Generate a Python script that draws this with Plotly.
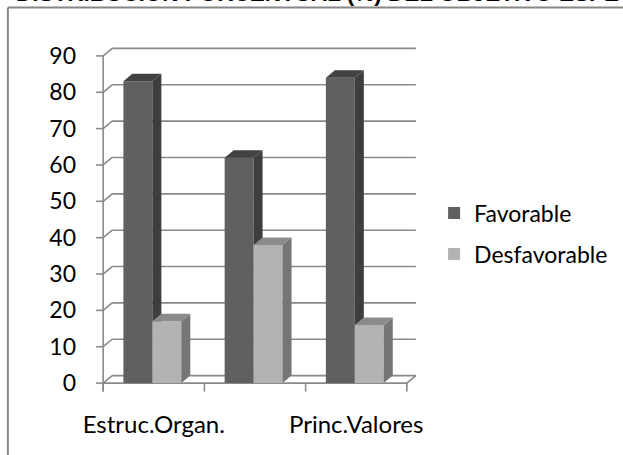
import plotly.graph_objects as go

# ---- data ----
categories = ["Estruc.Organ.", "", "Princ.Valores"]   # middle label not shown in the reference
favorable = [83, 62, 84]
desfavorable = [17, 38, 16]
y_ticks = [0, 10, 20, 30, 40, 50, 60, 70, 80, 90]
title_text = "DISTRIBUCIÓN PORCENTUAL (%) DEL OBJETIVO ESPECÍFICO 1"

# ---- style ----
FONT = "Lato"
C_FAV = dict(front="#606060", side="#3e3e3e", top="#424242")
C_DES = dict(front="#b3b3b3", side="#767676", top="#8b8b8b")
GRID = "#8a8a8a"
DX, DY = 0.089, 2.06          # 3-D depth offset in data units
BAR_W = 0.286
OFF_FAV, OFF_DES = -0.300, -0.014

xs = list(range(len(categories)))
x0, x1 = -0.5, len(categories) - 0.5


def faces(values, offset):
    side_x, side_y, top_x, top_y = [], [], [], []
    for i, v in zip(xs, values):
        xl = i + offset
        xr = xl + BAR_W
        side_x += [xr, xr, xr + DX, xr + DX, xr, None]
        side_y += [0, v, v + DY, DY, 0, None]
        top_x += [xl, xr, xr + DX, xl + DX, xl, None]
        top_y += [v, v, v + DY, v + DY, v, None]
    return side_x, side_y, top_x, top_y


fig = go.Figure()

# Favorable on main subplot
fig.add_trace(go.Bar(x=xs, y=favorable, width=BAR_W, offset=OFF_FAV,
                     marker=dict(color=C_FAV["front"], line=dict(width=0)),
                     name="Favorable", legendgroup="f", yaxis="y"))
sx, sy, tx, ty = faces(favorable, OFF_FAV)
fig.add_trace(go.Scatter(x=sx, y=sy, fill="toself", fillcolor=C_FAV["side"], mode="lines",
                         line=dict(width=0), showlegend=False, hoverinfo="skip", yaxis="y"))
fig.add_trace(go.Scatter(x=tx, y=ty, fill="toself", fillcolor=C_FAV["top"], mode="lines",
                         line=dict(width=0), showlegend=False, hoverinfo="skip", yaxis="y"))

# Desfavorable on overlaid subplot (drawn above Favorable side faces)
fig.add_trace(go.Bar(x=xs, y=desfavorable, width=BAR_W, offset=OFF_DES,
                     marker=dict(color=C_DES["front"], line=dict(width=0)),
                     name="Desfavorable", legendgroup="d", yaxis="y2"))
sx, sy, tx, ty = faces(desfavorable, OFF_DES)
fig.add_trace(go.Scatter(x=sx, y=sy, fill="toself", fillcolor=C_DES["side"], mode="lines",
                         line=dict(width=0), showlegend=False, hoverinfo="skip", yaxis="y2"))
fig.add_trace(go.Scatter(x=tx, y=ty, fill="toself", fillcolor=C_DES["top"], mode="lines",
                         line=dict(width=0), showlegend=False, hoverinfo="skip", yaxis="y2"))

# ---- frame: walls, floor, axis, ticks ----
shapes = []


def seg(xa, ya, xb, yb, layer="below"):
    shapes.append(dict(type="line", xref="x", yref="y", x0=xa, y0=ya, x1=xb, y1=yb,
                       line=dict(color=GRID, width=1.6), layer=layer))


for v in y_ticks:
    # side wall diagonal + back wall line
    seg(x0, v, x0 + DX, v + DY)
    seg(x0 + DX, v + DY, x1 + DX, v + DY)
    # y tick mark
    seg(x0 - 0.07, v, x0, v)
# floor
seg(x0, 0, x1, 0)
seg(x1, 0, x1 + DX, DY)
# front vertical axis
seg(x0, y_ticks[0] - 2.3, x0, y_ticks[-1])
# category ticks
for k in range(len(categories) + 1):
    seg(x0 + k, 0, x0 + k, -2.3)

# outer chart border (top and left edges visible)
for s in [dict(x0=-0.2534, y0=1.1073, x1=1.70, y1=1.1073),
          dict(x0=-0.2534, y0=1.1073, x1=-0.2534, y1=-0.25)]:
    shapes.append(dict(type="line", xref="paper", yref="paper", **s,
                       line=dict(color="#878787", width=2), layer="above"))

fig.update_layout(
    width=623, height=455,
    margin=dict(l=90.5, r=204.2, t=44.8, b=60.8, autoexpand=False),
    paper_bgcolor="white", plot_bgcolor="white",
    barmode="overlay",
    font=dict(family=FONT, size=23, color="#000000"),
    xaxis=dict(range=[x0 - 0.12, x1 + 0.12], tickvals=xs, ticktext=categories,
               showgrid=False, zeroline=False, showline=False, ticks="", automargin=False,
               tickfont=dict(family=FONT, size=24), ticklabelstandoff=14, fixedrange=True),
    yaxis=dict(range=[-3, 93], tickvals=y_ticks, showgrid=False, zeroline=False,
               showline=False, ticks="", automargin=False, tickfont=dict(family=FONT, size=23),
               ticklabelstandoff=14, fixedrange=True),
    yaxis2=dict(range=[-3, 93], overlaying="y", visible=False, fixedrange=True,
                automargin=False),
    legend=dict(x=1.046, xanchor="left", y=0.58, yanchor="top",
                traceorder="grouped", tracegroupgap=8,
                font=dict(family=FONT, size=23), bgcolor="rgba(0,0,0,0)"),
    shapes=shapes,
    annotations=[dict(text="<b>" + title_text + "</b>", xref="paper", yref="paper",
                      x=-0.235, xanchor="left", y=1.1465, yanchor="middle",
                      showarrow=False,
                      font=dict(family="Liberation Sans", size=22.5, color="#000000"))],
)

fig.write_html("out.html", config={"displayModeBar": False},
               post_script="document.body.style.margin='0';")
